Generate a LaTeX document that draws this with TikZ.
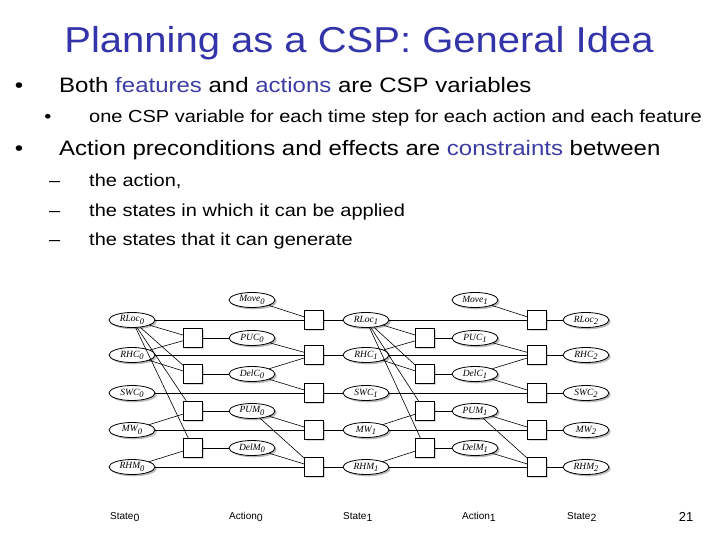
\documentclass[tikz,border=0pt]{standalone}
\usepackage{fontspec}
\setmainfont{Liberation Sans}
\newfontfamily\lserif{Liberation Serif}
\usetikzlibrary{shapes.geometric,shadows}
\definecolor{tblue}{RGB}{51,51,170}
\definecolor{hblue}{RGB}{60,60,165}
\newcommand\vlab[2]{#1\raisebox{-0.5ex}{\fontsize{8.5}{9}\selectfont #2}}
\newcommand\slab[2]{#1\raisebox{-0.5ex}{\fontsize{10.5}{11}\selectfont #2}}
\newcommand\ysq[1]{\scalebox{1}[0.87]{#1}}
\begin{document}
\begin{tikzpicture}[x=1pt,y=-1pt,
  var/.style={ellipse, draw, fill=white, line width=0.8pt, minimum width=46pt,
    minimum height=15pt, inner sep=0pt,
    drop shadow={shadow xshift=1.8pt,shadow yshift=-1.8pt,opacity=0.55},
    font=\lserif\itshape\fontsize{9.5}{10}\selectfont},
  con/.style={draw, fill=white, minimum size=19pt, inner sep=0pt, line width=0.7pt,
    drop shadow={shadow xshift=1pt,shadow yshift=-1pt,opacity=0.3}},
  edge/.style={line width=0.6pt},
  big/.style={anchor=base west, inner sep=0pt, font=\fontsize{24}{24}\selectfont},
  small/.style={anchor=base west, inner sep=0pt, font=\fontsize{20}{20}\selectfont},
  axis/.style={anchor=base west, inner sep=0pt, font=\fontsize{10}{10}\selectfont}
]
\useasboundingbox (0,0) rectangle (720,540);

% title and text
\node[anchor=base, inner sep=0pt, text=tblue, font=\fontsize{40}{40}\selectfont] (title) at (359,53)
  {\scalebox{1}[0.9]{Planning as a CSP: General Idea}};
\node[big, anchor=base] (d1) at (19,93) {\ysq{•}};
\node[big] (t1) at (59,93) {\ysq{Both \textcolor{hblue}{features} and \textcolor{hblue}{actions} are CSP variables}};
\node[small, anchor=base] (d2) at (48,123) {\ysq{•}};
\node[small] (t2) at (89,123) {\ysq{one CSP variable for each time step for each action and each feature}};
\node[big, anchor=base] (d3) at (19,156) {\ysq{•}};
\node[big] (t3) at (59,156) {\ysq{Action preconditions and effects are \textcolor{hblue}{constraints} between}};
\node[small] (d4) at (49,187) {\ysq{–}};
\node[small] (t4) at (89,187) {\ysq{the action,}};
\node[small] (d5) at (49,216) {\ysq{–}};
\node[small] (t5) at (89,216) {\ysq{the states in which it can be applied}};
\node[small] (d6) at (49,245) {\ysq{–}};
\node[small] (t6) at (89,245) {\ysq{the states that it can generate}};

% state variables and state constraint boxes
\foreach \t/\y in {RLoc/320, RHC/355, SWC/393, MW/430, RHM/467} {
  \node[var] (\t0) at (132,\y) {\vlab{\t}{0}};
  \node[con] (b\t1) at (314,\y) {};
  \node[var] (\t1) at (366,\y) {\vlab{\t}{1}};
  \node[con] (b\t2) at (537,\y) {};
  \node[var] (\t2) at (586,\y) {\vlab{\t}{2}};
}
% action variables and precondition boxes
\node[var] (Move0) at (252,300) {\vlab{Move}{0}};
\node[var] (Move1) at (475,300) {\vlab{Move}{1}};
\foreach \t/\y in {PUC/338, DelC/374, PUM/411, DelM/448} {
  \node[con] (c\t0) at (193,\y) {};
  \node[var] (\t0) at (252,\y) {\vlab{\t}{0}};
  \node[con] (c\t1) at (425,\y) {};
  \node[var] (\t1) at (475,\y) {\vlab{\t}{1}};
}

% connections
\foreach \k/\kk in {0/1, 1/2} {
  \draw[edge] (RLoc\k) -- (cPUC\k);
  \draw[edge] (RLoc\k) -- (cDelC\k);
  \draw[edge] (RLoc\k) -- (cPUM\k);
  \draw[edge] (RLoc\k) -- (cDelM\k);
  \draw[edge] (RHC\k) -- (cPUC\k);
  \draw[edge] (RHC\k) -- (cDelC\k);
  \draw[edge] (MW\k) -- (cPUM\k);
  \draw[edge] (RHM\k) -- (cDelM\k);
  \draw[edge] (cPUC\k) -- (PUC\k);
  \draw[edge] (cDelC\k) -- (DelC\k);
  \draw[edge] (cPUM\k) -- (PUM\k);
  \draw[edge] (cDelM\k) -- (DelM\k);
  \draw[edge] (RLoc\k) -- (bRLoc\kk);
  \draw[edge] (Move\k) -- (bRLoc\kk);
  \draw[edge] (RHC\k) -- (bRHC\kk);
  \draw[edge] (PUC\k) -- (bRHC\kk);
  \draw[edge] (DelC\k) -- (bRHC\kk);
  \draw[edge] (SWC\k) -- (bSWC\kk);
  \draw[edge] (DelC\k) -- (bSWC\kk);
  \draw[edge] (MW\k) -- (bMW\kk);
  \draw[edge] (PUM\k) -- (bMW\kk);
  \draw[edge] (RHM\k) -- (bRHM\kk);
  \draw[edge] (PUM\k) -- (bRHM\kk);
  \draw[edge] (DelM\k) -- (bRHM\kk);
  \draw[edge] (bRLoc\kk) -- (RLoc\kk);
  \draw[edge] (bRHC\kk) -- (RHC\kk);
  \draw[edge] (bSWC\kk) -- (SWC\kk);
  \draw[edge] (bMW\kk) -- (MW\kk);
  \draw[edge] (bRHM\kk) -- (RHM\kk);
}

% axis labels
\node[axis] (ls0) at (110,519) {\slab{State}{0}};
\node[axis] (la0) at (229,519) {\slab{Action}{0}};
\node[axis] (ls1) at (343,519) {\slab{State}{1}};
\node[axis] (la1) at (462,519) {\slab{Action}{1}};
\node[axis] (ls2) at (567,519) {\slab{State}{2}};
\node[anchor=base, inner sep=0pt, font=\fontsize{13}{13}\selectfont] (pg) at (686,521) {21};
\end{tikzpicture}
\end{document}
